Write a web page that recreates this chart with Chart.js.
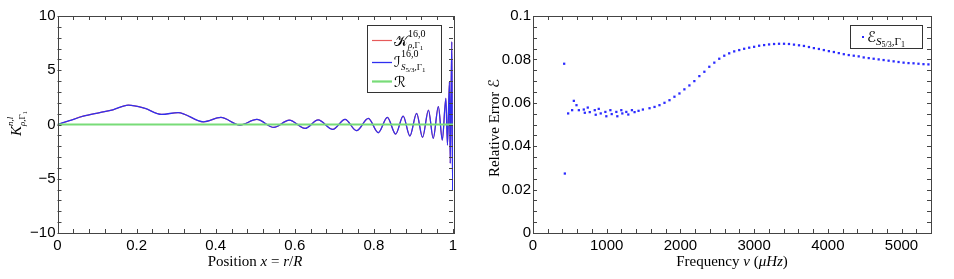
<!DOCTYPE html>
<html>
<head>
<meta charset="utf-8">
<script src="https://cdn.jsdelivr.net/npm/chart.js@4/dist/chart.umd.min.js"></script>
<style>
html, body { margin: 0; padding: 0; background: #fff; }
#wrap { position: relative; width: 954px; height: 279px; }
.panel { position: absolute; top: 0; width: 477px; height: 279px; }
</style>
</head>
<body>
<div id="wrap">
    <div class="panel" style="left:0"><canvas id="kernelChart"></canvas></div>
    <div class="panel" style="left:477px"><canvas id="errorChart"></canvas></div>
</div>
<script>
// ---- Data: left panel (kernel vs position) ----
const position = [0, 0.03, 0.065, 0.107, 0.14, 0.179, 0.22, 0.263, 0.305, 0.369, 0.413, 0.461, 0.504,
    0.547, 0.586, 0.626, 0.659, 0.696, 0.727, 0.756, 0.786, 0.811, 0.834, 0.855, 0.874, 0.891, 0.908,
    0.923, 0.938, 0.950, 0.963, 0.973, 0.982, 0.986, 0.991, 0.993, 0.997, 0.999, 1.0];
const kernelI = [0, 0.35, 0.77, 1.1, 1.35, 1.79, 1.5, 0.93, 1.1, 0.25, 0.65, -0.05, 0.47,
    -0.27, 0.40, -0.36, 0.42, -0.45, 0.48, -0.57, 0.56, -0.76, 0.65, -0.88, 0.77, -1.06, 1.02,
    -1.19, 1.33, -1.28, 1.64, -1.43, 2.41, -1.89, 3.94, -3.58, 7.63, -6.04, -2.0];
const kernelK = kernelI.slice();   // hidden under the blue curve
const residualX = [0, 1];
const residual = [0, 0];

const posTicks = [0, 0.2, 0.4, 0.6, 0.8, 1];
const posTickLabels = ['0', '0.2', '0.4', '0.6', '0.8', '1'];
const kTicks = [-10, -5, 0, 5, 10];
const kTickLabels = ['\u221210', '\u22125', '0', '5', '10'];

// ---- Data: right panel (relative error vs frequency) ----
const freq = [423, 432, 477, 531, 554, 590, 622, 689, 703, 743, 770, 838, 851, 892, 919, 982, 995,
    1050, 1068, 1131, 1144, 1198, 1212, 1266, 1293, 1342, 1378, 1432,
    1491, 1581, 1649, 1716, 1784, 1852, 1919, 1987, 2054, 2122, 2189, 2257, 2325, 2392, 2460, 2527,
    2595, 2662, 2730, 2798, 2865, 2933, 3000, 3068, 3136, 3203, 3271, 3338, 3406, 3473, 3541, 3609,
    3676, 3744, 3811, 3879, 3946, 4014, 4082, 4149, 4217, 4284, 4352, 4419, 4487, 4555, 4622, 4690,
    4757, 4825, 4893, 4960, 5028, 5095, 5163, 5230, 5298, 5365];
const relErr = [0.0780, 0.0274, 0.0551, 0.0566, 0.0609, 0.0589, 0.0566, 0.0569, 0.0554, 0.0578, 0.0557,
    0.0566, 0.0545, 0.0572, 0.0551, 0.0558, 0.0538, 0.0566, 0.0548, 0.0558, 0.0538, 0.0566, 0.0551,
    0.0558, 0.0546, 0.0566, 0.0557, 0.0563,
    0.0569, 0.0575, 0.0581, 0.0589, 0.0600, 0.0612, 0.0628, 0.0643, 0.0662, 0.0680, 0.0700, 0.0723,
    0.0743, 0.0766, 0.0785, 0.0803, 0.0817, 0.0828, 0.0837, 0.0843, 0.0849, 0.0854, 0.0858, 0.0863,
    0.0866, 0.0869, 0.0871, 0.0872, 0.0872, 0.0871, 0.0868, 0.0865, 0.0862, 0.0857, 0.0852, 0.0848,
    0.0843, 0.0838, 0.0834, 0.0829, 0.0824, 0.0820, 0.0817, 0.0814, 0.0809, 0.0806, 0.0803, 0.0800,
    0.0797, 0.0794, 0.0791, 0.0788, 0.0785, 0.0783, 0.0782, 0.0780, 0.0778, 0.0777];

const freqTicks = [0, 1000, 2000, 3000, 4000, 5000];
const freqTickLabels = ['0', '1000', '2000', '3000', '4000', '5000'];
const errTicks = [0, 0.02, 0.04, 0.06, 0.08, 0.1];
const errTickLabels = ['0', '0.02', '0.04', '0.06', '0.08', '0.1'];

// ---- helpers ----
const SANS = '"Liberation Sans", Arial, sans-serif';
const SERIF = '"Liberation Serif", "DejaVu Serif", serif';
const MATH = '"DejaVu Serif", "DejaVu Sans", serif';

// parts: [text, font, dy, opt] ; 'mark' saves x, 'back' returns to it (stacked sup/sub)
function drawRich(ctx, x, y, parts, center) {
    let total = 0;
    if (center) {
        parts.forEach(([t, f]) => { ctx.font = f; total += ctx.measureText(t).width; });
    }
    let cx = x - total / 2;
    let mark = cx;
    parts.forEach(([t, f, dy, opt]) => {
        if (opt === 'mark') mark = cx;
        if (opt === 'back') cx = mark;
        ctx.font = f;
        ctx.fillText(t, cx, y + (dy || 0));
        cx += ctx.measureText(t).width;
    });
}

const framePlugin = {
    id: 'frame',
    afterDatasetsDraw(chart, args, opts) {
        const { ctx, chartArea: a, scales: { x, y } } = chart;
        ctx.save();
        ctx.strokeStyle = '#444';
        ctx.lineWidth = 1;
        ctx.beginPath();
        const tick = (px, py, dx, dy) => { ctx.moveTo(px, py); ctx.lineTo(px + dx, py + dy); };
        for (let v = x.min; v <= x.max + 1e-9; v += opts.xStep) {
            const px = Math.round(x.getPixelForValue(v)) + 0.5;
            tick(px, a.bottom, 0, -4);
            tick(px, a.top, 0, 4);
        }
        for (let v = y.min; v <= y.max + 1e-9; v += opts.yStep) {
            const py = Math.round(y.getPixelForValue(v)) + 0.5;
            tick(a.left, py, 4, 0);
            tick(a.right, py, -4, 0);
        }
        ctx.stroke();
        ctx.strokeRect(Math.round(a.left) + 0.5, Math.round(a.top) + 0.5,
            Math.round(a.right - a.left), Math.round(a.bottom - a.top));
        ctx.restore();
    }
};

function axisX(min, max, ticks, labels, height) {
    return {
        type: 'linear', min, max,
        afterBuildTicks: s => { s.ticks = ticks.map(v => ({ value: v })); },
        afterFit: s => { s.height = height; },
        grid: { display: false, drawTicks: false },
        border: { display: false },
        ticks: { autoSkip: false, maxRotation: 0, padding: 4, color: '#000',
            font: { family: SANS, size: 15 }, callback: (v, i) => labels[i] }
    };
}
function axisY(min, max, ticks, labels, width) {
    return {
        type: 'linear', min, max,
        afterBuildTicks: s => { s.ticks = ticks.map(v => ({ value: v })); },
        afterFit: s => { s.width = width; },
        grid: { display: false, drawTicks: false },
        border: { display: false },
        ticks: { autoSkip: false, padding: 2, color: '#000',
            font: { family: SANS, size: 15 }, callback: (v, i) => labels[i] }
    };
}

// ---- Left panel ----
new Chart(document.getElementById('kernelChart'), {
    type: 'line',
    data: {
        datasets: [
            { data: position.map((p, i) => ({ x: p, y: kernelK[i] })), borderColor: '#e65a5a',
              borderWidth: 1.2, pointRadius: 0, cubicInterpolationMode: 'monotone', order: 3 },
            { data: position.map((p, i) => ({ x: p, y: kernelI[i] })), borderColor: '#2f2ff0',
              borderWidth: 1.3, pointRadius: 0, cubicInterpolationMode: 'monotone', order: 2 },
            { data: residualX.map((p, i) => ({ x: p, y: residual[i] })), borderColor: '#78dc78',
              borderWidth: 2.2, pointRadius: 0, order: 1 }
        ]
    },
    options: {
        responsive: true, maintainAspectRatio: false, animation: false, devicePixelRatio: 1,
        layout: { padding: { left: 0, right: 24, top: 16, bottom: 0 } },
        plugins: { legend: { display: false }, tooltip: { enabled: false },
            frame: { xStep: 0.04, yStep: 1 } },
        scales: {
            x: axisX(0, 1, posTicks, posTickLabels, 46),
            y: axisY(-10, 10, kTicks, kTickLabels, 57.5)
        }
    },
    plugins: [framePlugin, {
        id: 'kernelText',
        afterDraw(chart) {
            const ctx = chart.ctx;
            ctx.save();
            ctx.textBaseline = 'alphabetic';
            // legend
            ctx.fillStyle = '#fff';
            ctx.fillRect(367.5, 25.5, 74, 67);
            ctx.strokeStyle = '#333';
            ctx.lineWidth = 1;
            ctx.strokeRect(367.5, 25.5, 74, 67);
            const sample = (y, c, w) => {
                ctx.strokeStyle = c; ctx.lineWidth = w;
                ctx.beginPath(); ctx.moveTo(372, y); ctx.lineTo(392, y); ctx.stroke();
            };
            sample(40.5, '#e65a5a', 1.2);
            sample(62.5, '#2f2ff0', 1.3);
            sample(81.5, '#78dc78', 2.2);
            ctx.fillStyle = '#000';
            drawRich(ctx, 394, 46, [
                ['\u{1D4A6}', '15px ' + MATH, 0],
                ['16,0', '10px ' + SERIF, -9, 'mark'],
                ['\u03C1', 'italic 9px ' + SERIF, 2, 'back'],
                [',\u0393', '9px ' + SERIF, 2],
                ['1', '7px ' + SERIF, 4]
            ]);
            drawRich(ctx, 394, 67, [
                ['\u2110', '15px ' + MATH, 0],
                ['16,0', '10px ' + SERIF, -10, 'mark'],
                ['S', 'italic 9px ' + SERIF, 3, 'back'],
                ['5/3', '7px ' + SERIF, 5],
                [',\u0393', '9px ' + SERIF, 3],
                ['1', '7px ' + SERIF, 5]
            ]);
            drawRich(ctx, 394, 87, [['\u211B', '15px ' + MATH, 0]]);
            // x title
            drawRich(ctx, 255, 266, [
                ['Position ', '15px ' + SERIF], ['x', 'italic 15px ' + SERIF], [' = ', '15px ' + SERIF],
                ['r', 'italic 15px ' + SERIF], ['/', '15px ' + SERIF], ['R', 'italic 15px ' + SERIF]
            ], true);
            // y title
            ctx.translate(21, 136);
            ctx.rotate(-Math.PI / 2);
            drawRich(ctx, 0, 0, [
                ['K', 'italic 15px ' + SERIF, 0],
                ['n,l', 'italic 9px ' + SERIF, -8, 'mark'],
                ['\u03C1', 'italic 9px ' + SERIF, 4, 'back'],
                [',\u0393', '9px ' + SERIF, 4],
                ['1', '6px ' + SERIF, 6]
            ]);
            ctx.restore();
        }
    }]
});

// ---- Right panel ----
new Chart(document.getElementById('errorChart'), {
    type: 'scatter',
    data: {
        datasets: [{
            data: freq.map((f, i) => ({ x: f, y: relErr[i] })),
            backgroundColor: '#2b2bff', borderWidth: 0,
            pointStyle: 'rect', pointRadius: 1.6
        }]
    },
    options: {
        responsive: true, maintainAspectRatio: false, animation: false, devicePixelRatio: 1,
        layout: { padding: { left: 0, right: 23, top: 16, bottom: 0 } },
        plugins: { legend: { display: false }, tooltip: { enabled: false },
            frame: { xStep: 200, yStep: 0.005 } },
        scales: {
            x: axisX(0, 5400, freqTicks, freqTickLabels, 46),
            y: axisY(0, 0.1, errTicks, errTickLabels, 56)
        }
    },
    plugins: [framePlugin, {
        id: 'errorText',
        afterDraw(chart) {
            const ctx = chart.ctx;
            ctx.save();
            ctx.fillStyle = '#fff';
            ctx.fillRect(373.5, 25.5, 72, 23);
            ctx.strokeStyle = '#333';
            ctx.lineWidth = 1;
            ctx.strokeRect(373.5, 25.5, 72, 23);
            ctx.fillStyle = '#2b2bff';
            ctx.fillRect(385, 36, 2, 2);
            ctx.fillStyle = '#000';
            drawRich(ctx, 390, 42, [
                ['\u2130', '15px ' + MATH, 0],
                ['S', 'italic 11px ' + SERIF, 3],
                ['5/3', '8px ' + SERIF, 5],
                [',\u0393', '11px ' + SERIF, 3],
                ['1', '8px ' + SERIF, 5]
            ]);
            // x title
            drawRich(ctx, 255, 266, [
                ['Frequency ', '15px ' + SERIF], ['\u03BD', 'italic 15px ' + SERIF],
                [' (', '15px ' + SERIF], ['\u03BCHz', 'italic 15px ' + SERIF], [')', '15px ' + SERIF]
            ], true);
            // y title
            ctx.translate(22, 128);
            ctx.rotate(-Math.PI / 2);
            drawRich(ctx, 0, 0, [
                ['Relative Error ', '15px ' + SERIF], ['\u2130', '15px ' + MATH]
            ], true);
            ctx.restore();
        }
    }]
});
</script>
</body>
</html>
